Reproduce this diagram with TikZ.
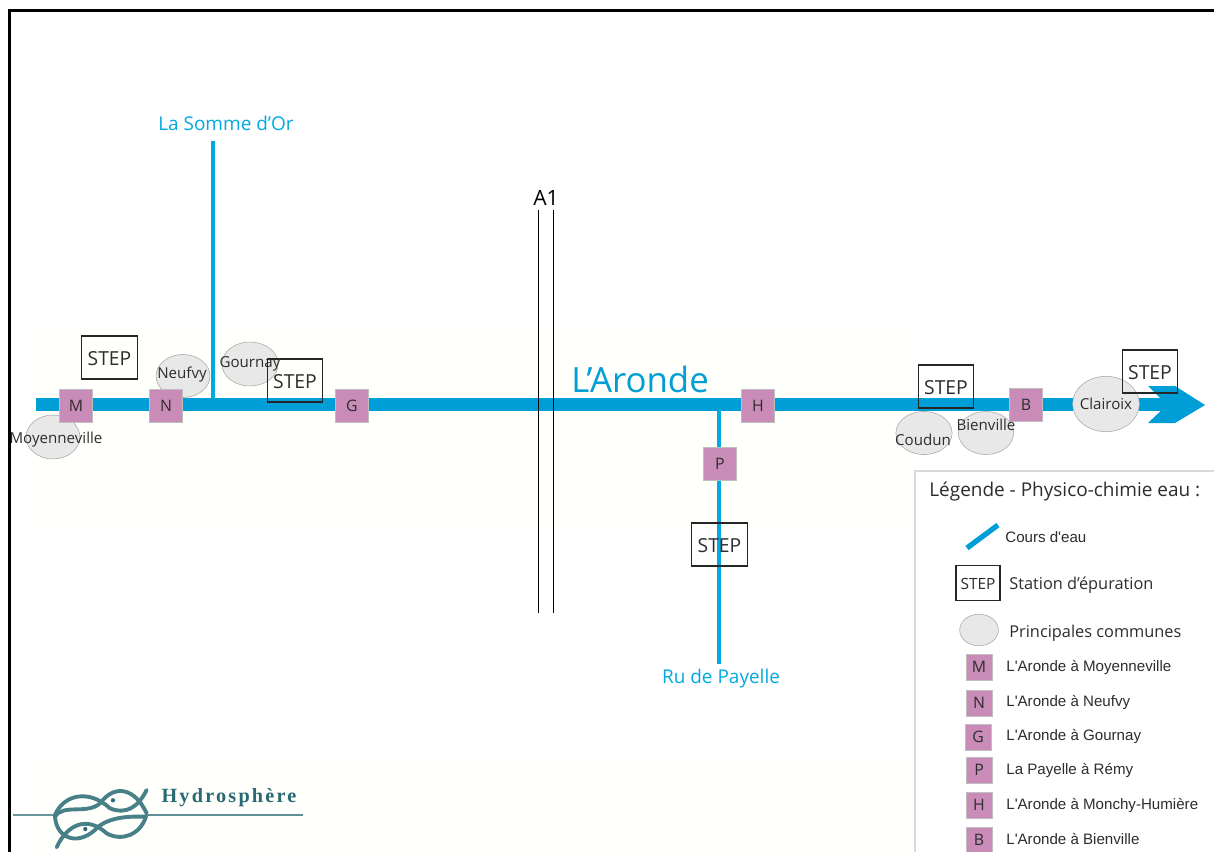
\documentclass[tikz,border=0pt]{standalone}
\usepackage{xcolor}
\usepackage{fontspec}
\setmainfont{Open Sans}
\newfontfamily\arialfont{Liberation Sans}
\newfontfamily\logofont[LetterSpace=11]{Liberation Serif}
\usetikzlibrary{shapes,arrows,positioning}
\definecolor{hyRiver}{RGB}{0,158,214}
\definecolor{hyBrook}{RGB}{0,170,226}
\definecolor{hySite}{RGB}{201,139,184}
\definecolor{hyTown}{RGB}{232,232,232}
\definecolor{hyTeal}{RGB}{40,105,115}
\definecolor{hyCream}{RGB}{255,255,252}
\definecolor{hyInk}{RGB}{45,45,45}
\tikzset{
  stepbox/.style={draw=black!85, line width=0.65pt, minimum width=31.5pt, minimum height=24.5pt, inner sep=0pt, text=hyInk, text height=9pt, text depth=0pt, font=\fontsize{11}{11}\selectfont},
  site/.style={draw=black!25, line width=0.2pt, fill=hySite, minimum size=18.8pt, inner sep=0pt, text=hyInk, font=\fontsize{9}{9}\selectfont},
  keysite/.style={site, minimum size=14.5pt, font=\fontsize{9}{9}\selectfont},
  town/.style={draw=black!35, line width=0.3pt, fill=hyTown, ellipse, inner sep=0pt},
  townname/.style={inner sep=0pt, yshift=-1pt, text=hyInk, font=\fontsize{8.6}{8.6}\selectfont},
  river/.style={draw=hyRiver, line width=7pt},
  brook/.style={draw=hyBrook, line width=1.8pt},
  brookname/.style={inner sep=0pt, yshift=-0.5pt, text=hyBrook, font=\fontsize{10.8}{10.8}\selectfont},
  keytext/.style={anchor=west, inner sep=0pt, text=hyInk, font=\arialfont\fontsize{8.6}{8.6}\selectfont},
  keyhead/.style={anchor=west, inner sep=0pt, yshift=-1pt, text=hyInk, font=\fontsize{9.3}{9.3}\selectfont},
  road/.style={draw=black, line width=0.55pt},
  knot/.style={draw=hyTeal!85, line width=2.2pt, line cap=round}
}
\begin{document}
\begin{tikzpicture}[x=0.02cm, y=-0.02cm]
  \useasboundingbox (0,0) rectangle (1214,852);
  \fill[white] (0,0) rectangle (1214,852);
  \fill[hyCream] (30,330) rectangle (910,530);
  \fill[hyCream] (30,760) rectangle (910,852);
  % frame
  \draw[black, line width=1.9pt] (9.5,852) -- (9.5,10.5) -- (1214,10.5);
  % waters
  \coordinate (ordtop) at (213,141);
  \coordinate (ordfoot) at (213,404);
  \coordinate (payfoot) at (719,664);
  \coordinate (payhead) at (719,404);
  \coordinate (arostart) at (36,404.5);
  \coordinate (aroend) at (1170,404.5);
  \draw[brook] (ordtop) -- (ordfoot);
  \draw[brook] (payhead) -- (payfoot);
  \draw[river] (arostart) -- (aroend);
  \fill[hyRiver] (1148,386) -- (1175,386) -- (1205,405) -- (1175,423) -- (1148,423) -- (1167,405) -- cycle;
  \node[brookname] (ordname) at (226,123) {La Somme d'Or};
  \node[brookname] (payname) at (721,678) {Ru de Payelle};
  \node[inner sep=0pt, yshift=-0.5pt, text=hyRiver, font=\fontsize{19.8}{19.8}\selectfont] (aroname) at (640,379) {L'Aronde};
  % motorway
  \coordinate (roadatop) at (538,210);
  \coordinate (roadafoot) at (538,613);
  \coordinate (roadbtop) at (553,210);
  \coordinate (roadbfoot) at (553,613);
  \draw[road] (roadatop) -- (roadafoot);
  \draw[road] (roadbtop) -- (roadbfoot);
  \node[inner sep=0pt, font=\fontsize{12}{12}\selectfont] (aone) at (546,198) {A1};
  % towns
  \node[town, minimum width=30.7pt, minimum height=25pt] (moyen) at (53,437) {};
  \node[town, minimum width=30.7pt, minimum height=24.5pt] (neuf) at (183,376) {};
  \node[town, minimum width=32pt, minimum height=25pt] (gour) at (250,364) {};
  \node[town, minimum width=32pt, minimum height=24.5pt] (coud) at (924,433) {};
  \node[town, minimum width=31.5pt, minimum height=24.5pt] (bien) at (986,433) {};
  \node[town, minimum width=38pt, minimum height=31.5pt] (clai) at (1106,404) {};
  % sewage works
  \node[stepbox] (stepm) at (109.5,357.5) {STEP};
  \node[stepbox] (stepg) at (295,380.5) {STEP};
  \node[stepbox] (stepc) at (946,386.5) {STEP};
  \node[stepbox] (stepe) at (1150,371.5) {STEP};
  \node[stepbox] (stepp) at (719.5,544.5) {STEP};
  % sites
  \node[site] (sitem) at (76,406) {M};
  \node[site] (siten) at (166,406) {N};
  \node[site] (siteg) at (352,406) {G};
  \node[site] (siteh) at (758,406) {H};
  \node[site] (sitep) at (720,464) {P};
  \node[site] (siteb) at (1026,405) {B};
  % town names
  \node[townname] (moyenname) at (56,438) {Moyenneville};
  \node[townname] (neufname) at (182,373) {Neufvy};
  \node[townname] (gourname) at (250,362) {Gournay};
  \node[townname] (coudname) at (923,438) {Coudun};
  \node[townname] (bienname) at (986,423) {Bienville};
  \node[townname] (clainame) at (1106,402) {Clairoix};
  % legend
  \draw[black!15, line width=0.7pt] (1214,471) -- (915,471) -- (915,852);
  \node[keyhead, font=\fontsize{10.8}{10.8}\selectfont] (keytitle) at (929,490) {Légende - Physico-chimie eau :};
  \coordinate (keyrivera) at (967,548);
  \coordinate (keyriverb) at (998,525);
  \draw[hyRiver, line width=3pt] (keyrivera) -- (keyriverb);
  \node[keytext] (keyriver) at (1005,537) {Cours d'eau};
  \node[stepbox, minimum width=25pt, minimum height=20pt, text height=7pt, font=\fontsize{8.8}{8.8}\selectfont] (keystep) at (978,583) {STEP};
  \node[keyhead] (keysteptxt) at (1009,583) {Station d'épuration};
  \node[town, minimum width=22pt, minimum height=18pt] (keytown) at (979,630) {};
  \node[keyhead] (keytowntxt) at (1009,631) {Principales communes};
  \node[keysite] (keym) at (979,667) {M};
  \node[keytext] (keymtxt) at (1006,667) {L'Aronde à Moyenneville};
  \node[keysite] (keyn) at (979,703) {N};
  \node[keytext] (keyntxt) at (1006,702) {L'Aronde à Neufvy};
  \node[keysite] (keyg) at (978,737) {G};
  \node[keytext] (keygtxt) at (1006,736) {L'Aronde à Gournay};
  \node[keysite] (keyp) at (979,770) {P};
  \node[keytext] (keyptxt) at (1006,770) {La Payelle à Rémy};
  \node[keysite] (keyh) at (979,805) {H};
  \node[keytext] (keyhtxt) at (1006,805) {L'Aronde à Monchy-Humière};
  \node[keysite] (keyb) at (979,840) {B};
  \node[keytext] (keybtxt) at (1006,839) {L'Aronde à Bienville};
  % logo
  \begin{scope}[shift={(0,760)}, x=0.00667cm, y=-0.00667cm]
    \draw[hyTeal!70, line width=1.3pt] (38,165) -- (165,165);
    \draw[hyTeal!75, line width=1.7pt] (440,165) -- (910,165);
    \draw[knot] (165,165) .. controls (190,105) and (265,85) .. (330,145) .. controls (380,165) and (415,140) .. (440,90);
    \draw[knot] (440,160) .. controls (405,85) and (345,70) .. (300,130) .. controls (260,165) and (190,130) .. (165,170) .. controls (170,240) and (240,260) .. (295,200) .. controls (340,165) and (410,170) .. (438,170);
    \draw[knot] (170,262) .. controls (200,195) and (260,165) .. (320,220) .. controls (365,245) and (420,225) .. (438,170);
    \fill[hyTeal] (339,121) circle (1.2pt);
    \fill[hyTeal] (256,207) circle (1.2pt);
  \end{scope}
  \node[inner sep=0pt, text=hyTeal, font=\logofont\bfseries\fontsize{11.5}{11.5}\selectfont] (logoname) at (229,798) {Hydrosphère};
\end{tikzpicture}
\end{document}
